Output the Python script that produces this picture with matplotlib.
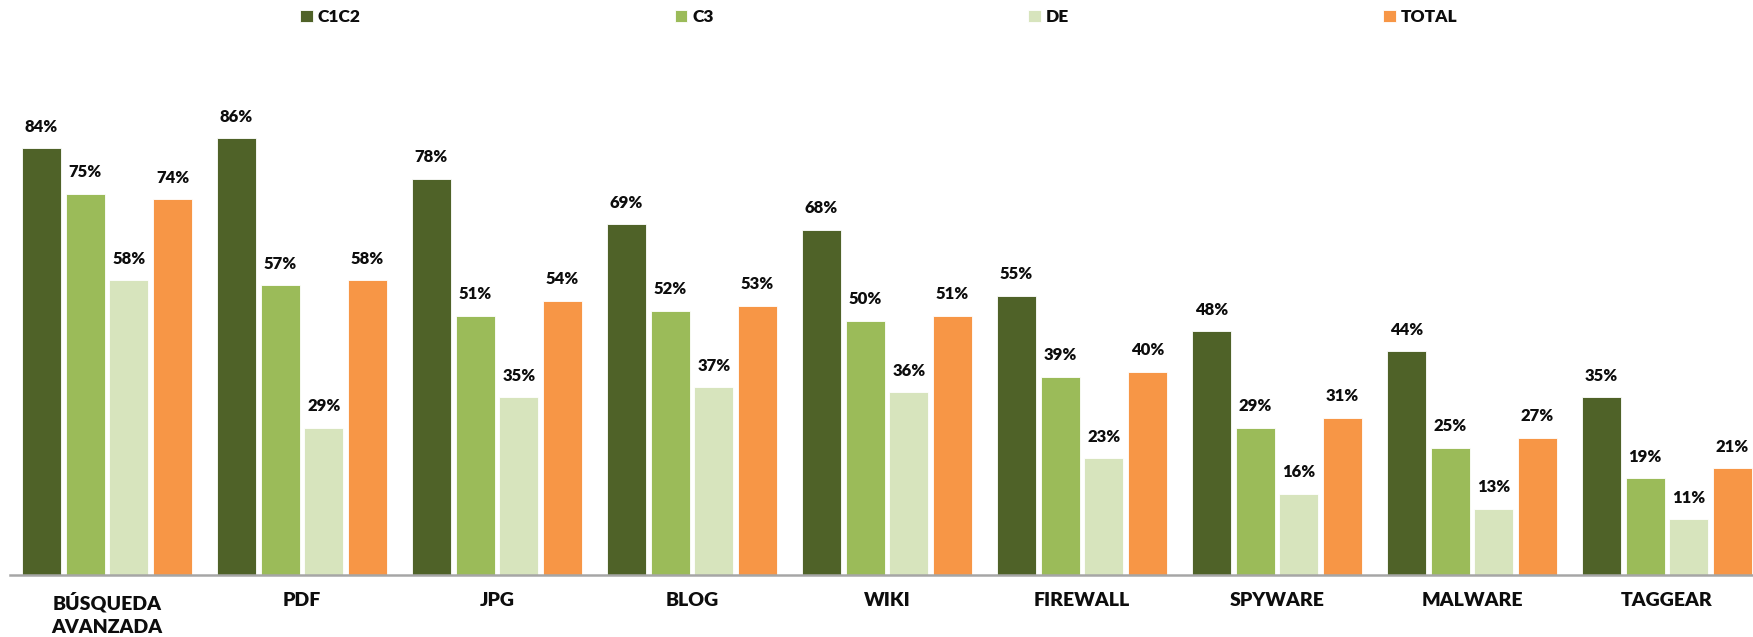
import matplotlib
matplotlib.use("Agg")
import matplotlib.pyplot as plt
import numpy as np

categories = ["BÚSQUEDA\nAVANZADA", "PDF", "JPG", "BLOG", "WIKI", "FIREWALL", "SPYWARE", "MALWARE", "TAGGEAR"]
series_names = ["C1C2", "C3", "DE", "TOTAL"]
c1c2 = [84, 86, 78, 69, 68, 55, 48, 44, 35]
c3 = [75, 57, 51, 52, 50, 39, 29, 25, 19]
de = [58, 29, 35, 37, 36, 23, 16, 13, 11]
total = [74, 58, 54, 53, 51, 40, 31, 27, 21]
colors = ["#4F6228", "#9BBB59", "#D7E4BD", "#F79646"]

plt.rcParams['font.family'] = ['Lato', 'DejaVu Sans']
WEIGHT = 'heavy'

W, H = 1753, 637
fig = plt.figure(figsize=(W / 100, H / 100), dpi=100)
left_px, right_px = 9.5, 1764.5
base_px, top_px = 575, 67
ax = fig.add_axes([left_px / W, (H - base_px) / H, (right_px - left_px) / W, (base_px - top_px) / H])

x = np.arange(len(categories))
step = 0.224
width = 0.2
all_series = [c1c2, c3, de, total]
for i, (name, vals, col) in enumerate(zip(series_names, all_series, colors)):
    pos = x + (i - 1.5) * step
    vals_f = np.array(vals) / 100.0
    ax.bar(pos, vals_f, width=width, color=col, edgecolor='white', linewidth=0.6, label=name)
    for p, v in zip(pos, vals):
        ax.annotate(f"{v}%", xy=(p, v / 100.0), xytext=(0, 15.5), textcoords='offset points',
                    ha='center', va='center', fontsize=12, fontweight=WEIGHT, color='#0D0D0D',
                    annotation_clip=False)

ax.set_xlim(-0.5, len(categories) - 0.5)
ax.set_ylim(0, 1)
ax.set_yticks([])
ax.set_xticks(x)
ax.set_xticklabels(categories, fontsize=14, fontweight=WEIGHT, color='#0D0D0D', linespacing=1.42)
ax.tick_params(axis='x', length=0, pad=12.5)
for s in ['top', 'right', 'left']:
    ax.spines[s].set_visible(False)
ax.spines['bottom'].set_color('#A6A6A6')
ax.spines['bottom'].set_linewidth(1.8)

leg = fig.legend(loc='upper left', bbox_to_anchor=(300 / W, 1 - 9 / H), ncol=4, frameon=False,
                 handlelength=0.72, handleheight=0.72, handletextpad=0.3,
                 columnspacing=18.1, borderpad=0, borderaxespad=0,
                 prop={'family': ['Lato', 'DejaVu Sans'], 'weight': WEIGHT, 'size': 12.5})
for t in leg.get_texts():
    t.set_color('#0D0D0D')

fig.savefig("out.png", dpi=100, facecolor='white')
